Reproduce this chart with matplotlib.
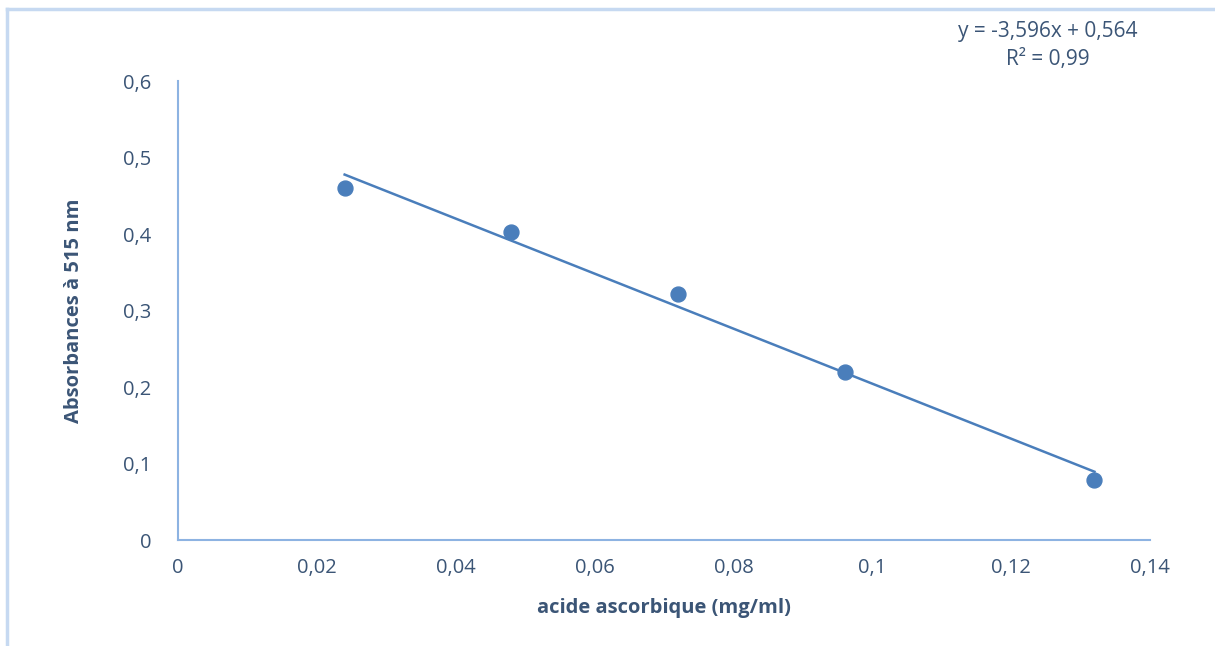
import numpy as np
import matplotlib.pyplot as plt
from matplotlib.lines import Line2D

plt.rcParams['font.family'] = ['Open Sans', 'DejaVu Sans']

# concentrations (mg/ml) et absorbances mesurées
concentration = [0.024, 0.048, 0.072, 0.096, 0.132]
absorbance = [0.460, 0.403, 0.322, 0.220, 0.078]

pente = -3.596
ordonnee = 0.564
r2 = 0.99

x_ticks = [0, 0.02, 0.04, 0.06, 0.08, 0.1, 0.12, 0.14]
y_ticks = [0, 0.1, 0.2, 0.3, 0.4, 0.5, 0.6]

bleu = '#4A7EBB'
axe = '#8DB3E2'
texte = '#3B5576'

fig = plt.figure(figsize=(12.15, 6.46), dpi=100)
ax = fig.add_axes([0.1465, 0.164, 0.8, 0.7106])

ax.scatter(concentration, absorbance, s=115, color=bleu, zorder=3)

# droite de régression
xl = np.array([min(concentration), max(concentration)])
ax.plot(xl, pente * xl + ordonnee, color=bleu, lw=1.8, zorder=2)

ax.set_xlim(0, 0.14)
ax.set_ylim(0, 0.6)
ax.set_xticks(x_ticks)
ax.set_yticks(y_ticks)
ax.set_xticklabels([f'{v:g}'.replace('.', ',') for v in x_ticks])
ax.set_yticklabels([f'{v:g}'.replace('.', ',') for v in y_ticks])
ax.tick_params(length=0, labelsize=14.5, colors=texte, pad=13)
ax.tick_params(axis='y', pad=19)

for s in ['top', 'right']:
    ax.spines[s].set_visible(False)
for s in ['left', 'bottom']:
    ax.spines[s].set_color(axe)
    ax.spines[s].set_linewidth(1.5)

ax.set_xlabel('acide ascorbique (mg/ml)', fontsize=14.5, fontweight='bold',
              color=texte, labelpad=14)
ax.set_ylabel('Absorbances à 515 nm', fontsize=14.5, fontweight='bold',
              color=texte, labelpad=28)

eq = f'y = {pente:.3f}x + {ordonnee:.3f}'.replace('.', ',')
fig.text(1048 / 1215, 1 - 32 / 646, eq, ha='center', va='center',
         fontsize=15, color=texte)
fig.text(1048 / 1215, 1 - 60 / 646, f'R² = {r2:.2f}'.replace('.', ','),
         ha='center', va='center', fontsize=15, color=texte)

# cadre du graphique
fig.add_artist(Line2D([7 / 1215, 1], [1 - 8.5 / 646] * 2, color='#C6D9F1', lw=2.5))
fig.add_artist(Line2D([7 / 1215] * 2, [0, 1 - 8.5 / 646], color='#C6D9F1', lw=2.5))

fig.savefig('out.png', dpi=100)
